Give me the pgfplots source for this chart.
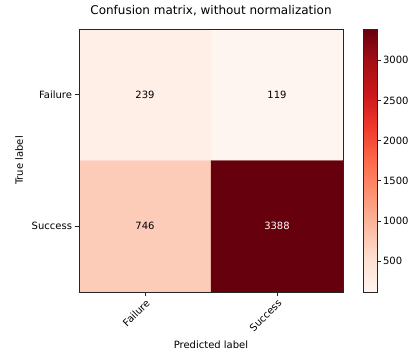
\documentclass[border=0pt]{standalone}
\usepackage{pgfplots}
\pgfplotsset{compat=1.18}
\usepackage{fontspec}
\setmainfont{DejaVu Sans}
\pgfplotsset{
  colormap={Reds}{rgb255=(255,245,240) rgb255=(254,224,210) rgb255=(252,187,161)
    rgb255=(252,146,114) rgb255=(251,106,74) rgb255=(239,59,44) rgb255=(203,24,29)
    rgb255=(165,15,21) rgb255=(103,0,13)}
}
\begin{document}
\begin{tikzpicture}
\useasboundingbox (0,0) rectangle (412pt,350pt);
\begin{axis}[
  at={(79pt,58pt)}, anchor=south west,
  scale only axis, width=264pt, height=263pt,
  xmin=-0.5, xmax=1.5, ymin=-0.5, ymax=1.5,
  y dir=reverse,
  axis on top,
  axis line style={line width=0.8pt, color=black!85},
  xtick={0,1}, xticklabels={Failure,Success},
  ytick={0,1}, yticklabels={Failure,Success},
  tick pos=left, tick align=outside,
  major tick length=3.5pt,
  every tick/.style={line width=0.8pt, color=black!85},
  xticklabel style={rotate=45, anchor=north east, inner sep=2pt, font=\fontsize{10}{12}\selectfont},
  yticklabel style={font=\fontsize{10}{12}\selectfont},
  xlabel={Predicted label},
  ylabel={True label},
  xlabel style={at={(axis description cs:0.5,-0.2)}, anchor=center, font=\fontsize{10}{12}\selectfont},
  ylabel style={at={(axis description cs:-0.227,0.5)}, anchor=center, rotate=0, font=\fontsize{10}{12}\selectfont},
  title={Confusion matrix, without normalization},
  title style={at={(axis description cs:0.5,1.046)}, anchor=center, font=\fontsize{12}{14}\selectfont},
  colormap name=Reds,
  point meta min=119, point meta max=3388,
  colorbar,
  colorbar style={
    at={(parent axis.north east)}, anchor=north west, xshift=12.3pt,
    width=13.5pt, height=263pt,
    ytick={500,1000,1500,2000,2500,3000},
    scaled y ticks=false,
    tick align=outside, major tick length=3.5pt,
    ytick pos=right,
    axis line style={line width=0.8pt, color=black!85},
    every tick/.style={line width=0.8pt, color=black!85},
    yticklabel style={font=\fontsize{10}{12}\selectfont, inner sep=0pt, xshift=2pt, /pgf/number format/assume math mode=true, /pgf/number format/1000 sep={}, /pgf/number format/fixed},
  },
]
\addplot[matrix plot*, point meta=explicit, mesh/cols=2, mesh/ordering=x varies] coordinates {
  (0,0) [239] (1,0) [119]
  (0,1) [746] (1,1) [3388]
};
\addplot[draw=none, mark=none, nodes near coords, point meta=explicit symbolic,
  every node near coord/.append style={anchor=center, text=black, font=\fontsize{10}{12}\selectfont}]
  table[meta=label] {
x y label
0 0 239
1 0 119
0 1 746
};
\addplot[draw=none, mark=none, nodes near coords, point meta=explicit symbolic,
  every node near coord/.append style={anchor=center, text=white, font=\fontsize{10}{12}\selectfont}]
  table[meta=label] {
x y label
1 1 3388
};
\end{axis}
\end{tikzpicture}
\end{document}
